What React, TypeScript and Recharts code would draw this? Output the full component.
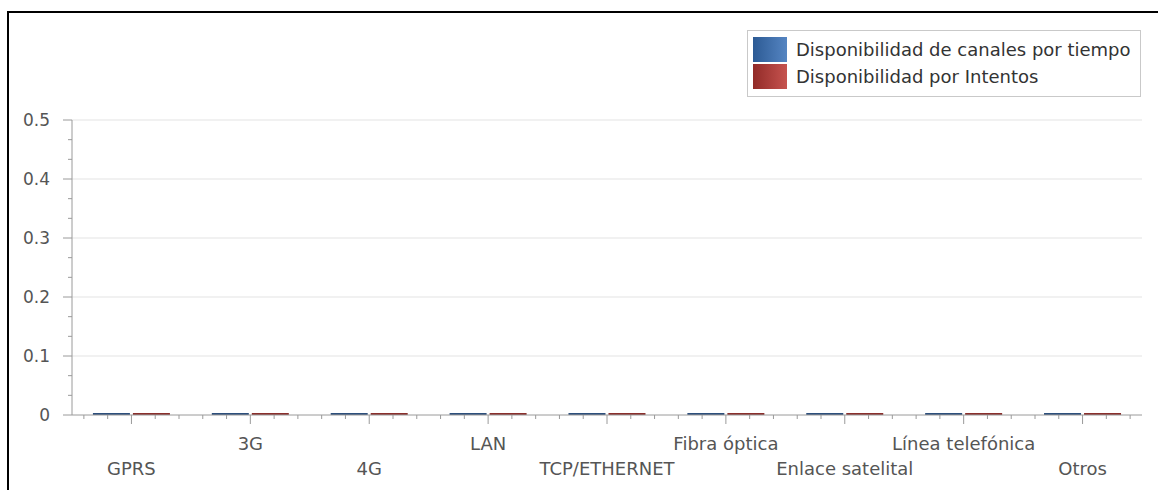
import React from "react";
import { BarChart, Bar, XAxis, YAxis, ReferenceLine, Legend } from "recharts";

const categories = [
  "GPRS",
  "3G",
  "4G",
  "LAN",
  "TCP/ETHERNET",
  "Fibra óptica",
  "Enlace satelital",
  "Línea telefónica",
  "Otros",
];
const tiempoValues = [0, 0, 0, 0, 0, 0, 0, 0, 0];
const intentosValues = [0, 0, 0, 0, 0, 0, 0, 0, 0];
const yMajorTicks = [0, 0.1, 0.2, 0.3, 0.4, 0.5];
const seriesNames = ["Disponibilidad de canales por tiempo", "Disponibilidad por Intentos"];

const data = categories.map((c, i) => ({
  name: c,
  tiempo: tiempoValues[i],
  intentos: intentosValues[i],
}));

// minor ticks: 2 between each pair of major y ticks
const yTicks: number[] = [];
yMajorTicks.forEach((t, i) => {
  yTicks.push(t);
  if (i < yMajorTicks.length - 1) {
    const step = (yMajorTicks[i + 1] - t) / 3;
    yTicks.push(t + step, t + 2 * step);
  }
});
const isMajorY = (v: number) => yMajorTicks.some((m) => Math.abs(m - v) < 1e-6);

const W = 1158;
const H = 490;
const Y_AXIS_W = 72;
const RIGHT = 16;
const BAND = (W - Y_AXIS_W - RIGHT) / categories.length;

const FONT = "'DejaVu Sans', Verdana, sans-serif";
const AXIS = "#9a9a9a";
const TEXT = "#555";

const YTick = (props: any) => {
  const { x, y, payload } = props;
  const major = isMajorY(payload.value);
  return (
    <g>
      <line x1={x - (major ? 9 : 4)} x2={x} y1={y} y2={y} stroke={AXIS} strokeWidth={1} />
      {major && (
        <text x={x - 22} y={y} dy={6} textAnchor="end" fill={TEXT} fontSize={17} fontFamily={FONT}>
          {String(Math.round(payload.value * 10) / 10)}
        </text>
      )}
    </g>
  );
};

const XLabelTick = (props: any) => {
  const { x, y, payload, index } = props;
  const row = index % 2 === 1 ? 0 : 1;
  const marks = [-2, -1, 0, 1, 2];
  return (
    <g>
      {marks.map((k) => (
        <line
          key={k}
          x1={x + (k * BAND) / 5}
          x2={x + (k * BAND) / 5}
          y1={y}
          y2={y + (k === 0 ? 9 : 4)}
          stroke={AXIS}
          strokeWidth={1}
        />
      ))}
      <text x={x} y={y + (row === 0 ? 35 : 60)} textAnchor="middle" fill={TEXT} fontSize={18} fontFamily={FONT}>
        {payload.value}
      </text>
    </g>
  );
};

const LegendContent = () => (
  <div
    style={{
      width: 394,
      height: 67,
      border: "1px solid #c9c9c9",
      boxSizing: "border-box",
      background: "#fff",
      fontFamily: FONT,
      fontSize: 18,
      color: "#333",
      padding: "5px 0 0 5px",
    }}
  >
    {[
      { name: seriesNames[0], c1: "#2c5a94", c2: "#5585c2" },
      { name: seriesNames[1], c1: "#922b28", c2: "#c6534f" },
    ].map((s) => (
      <div key={s.name} style={{ display: "flex", alignItems: "center", height: 27, marginBottom: 0 }}>
        <div
          style={{
            width: 34,
            height: 25,
            background: `linear-gradient(to right, ${s.c1}, ${s.c2})`,
            marginRight: 9,
            flexShrink: 0,
          }}
        />
        <span style={{ whiteSpace: "nowrap" }}>{s.name}</span>
      </div>
    ))}
  </div>
);

export default function App() {
  return (
    <div>
      <div
        style={{
          position: "absolute",
          left: 7,
          top: 11,
          width: 1151,
          height: 479,
          borderTop: "2px solid #000",
          borderLeft: "2px solid #000",
          boxSizing: "border-box",
        }}
      />
      <div style={{ position: "absolute", left: 0, top: 0 }}>
        <BarChart
          width={W}
          height={H}
          data={data}
          margin={{ top: 120, right: RIGHT, bottom: 0, left: 0 }}
          barCategoryGap="17.6%"
          barGap={3}
        >
          <XAxis
            dataKey="name"
            height={75}
            tickSize={0}
            tickMargin={0}
            axisLine={{ stroke: AXIS }}
            tickLine={false}
            interval={0}
            tick={<XLabelTick />}
          />
          <YAxis
            width={Y_AXIS_W}
            domain={[0, 0.5]}
            ticks={yTicks}
            interval={0}
            tickSize={0}
            tickMargin={0}
            tick={<YTick />}
            axisLine={{ stroke: AXIS }}
          />
          <YAxis
            yAxisId="right"
            orientation="right"
            width={0}
            domain={[0, 0.5]}
            tick={false}
            tickLine={false}
            axisLine={{ stroke: "#dcdcdc" }}
          />
          {yMajorTicks.slice(1).map((t) => (
            <ReferenceLine key={t} y={t} stroke="#e3e3e3" />
          ))}
          <Legend
            layout="vertical"
            align="center"
            verticalAlign="middle"
            content={<LegendContent />}
            wrapperStyle={{ position: "absolute", left: 747, top: 30, width: 394 }}
          />
          <Bar dataKey="tiempo" name={seriesNames[0]} fill="#2d4f7c" minPointSize={2} isAnimationActive={false} />
          <Bar dataKey="intentos" name={seriesNames[1]} fill="#8a2f2c" minPointSize={2} isAnimationActive={false} />
        </BarChart>
      </div>
    </div>
  );
}
